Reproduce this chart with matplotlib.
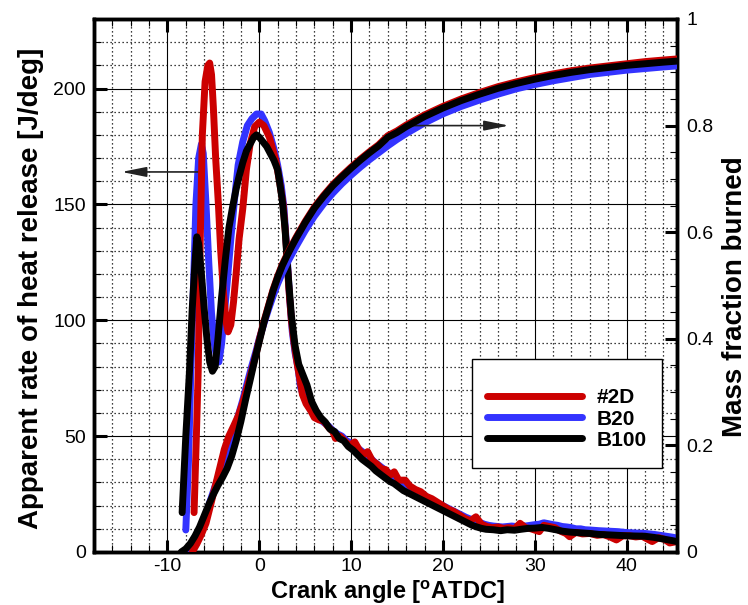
import matplotlib
matplotlib.use('Agg')
import matplotlib.pyplot as plt
from matplotlib.ticker import MultipleLocator, FuncFormatter
from matplotlib.patches import Rectangle

plt.rcParams['font.family'] = ['Liberation Sans', 'DejaVu Sans']
plt.rcParams['mathtext.fontset'] = 'custom'
plt.rcParams['mathtext.rm'] = 'Liberation Sans'
plt.rcParams['mathtext.bf'] = 'Liberation Sans:bold'
plt.rcParams['axes.unicode_minus'] = False

# ---------------- data ----------------
labels = ['#2D', 'B20', 'B100']

# Apparent rate of heat release [J/deg]
hrr_2d_x = [-7.1, -6.85, -6.65, -6.45, -6.2, -5.9, -5.6, -5.4, -5.2, -5.0, -4.75, -4.45, -4.2, -3.9, -3.6, -3.4,
            -3.1, -2.8, -2.5, -2.2, -1.8, -1.4, -1.0, -0.5, 0.0, 0.5, 1.1, 1.8, 2.2, 2.6, 2.9, 3.2, 3.5, 3.8, 4.1,
            4.4, 4.7, 5.1, 5.6, 6.0, 6.5, 7.0, 7.5, 8.0, 8.3, 8.8, 9.3, 9.8, 10.4, 10.9, 11.4, 11.8, 12.3, 12.8,
            13.3, 13.8, 14.2, 14.7, 15.2, 15.9, 16.4, 17.0, 17.6, 18.2, 18.8, 19.4, 20.0, 20.6, 21.2, 21.8, 22.4,
            23.0, 23.6, 24.2, 24.8, 25.4, 26.0, 26.6, 27.2, 27.8, 28.4, 29.0, 29.6, 30.5, 31.0, 31.6, 32.2, 32.8,
            33.4, 33.8, 34.5, 35.2, 36.0, 36.8, 37.5, 38.2, 38.9, 39.6, 40.3, 41.0, 41.7, 42.3, 42.8, 43.5, 44.1,
            44.7, 45.5]
hrr_2d_y = [17, 50, 78, 130, 180, 203, 210, 211, 206, 192, 170, 150, 130, 112, 99, 95,
            98, 108, 121, 135, 148, 165, 176, 183.5, 185.5, 184, 179, 169, 160, 150, 135, 115, 100, 90, 82,
            75, 68, 64, 61, 58, 57, 56.5, 54, 52, 49, 50, 48, 46, 47.5, 44, 42, 43.3, 39.5, 38,
            36, 35.5, 33, 34.6, 31, 31, 28.5, 27, 26, 24, 23, 21.5, 20, 18.5, 17.5, 16, 14.5,
            13.5, 15.2, 12, 11, 10.5, 10.8, 10.2, 10.5, 10, 12.4, 10.5, 10, 8.8, 11.5, 11, 10.5, 9,
            8, 6.6, 8.5, 7.8, 8.0, 7.2, 7.5, 6.5, 5.2, 7, 7, 6.5, 6.8, 5.5, 4.5, 6.2, 5.5,
            3.9, 4.5]

hrr_b20_x = [-8.0, -7.7, -7.45, -7.2, -6.9, -6.6, -6.3, -6.1, -5.8, -5.5, -5.2, -4.9, -4.6, -4.4, -4.1, -3.8,
             -3.5, -3.1, -2.7, -2.3, -1.8, -1.3, -0.8, -0.3, 0.2, 0.6, 1.1, 1.6, 2.0, 2.4, 2.7, 3.0, 3.3, 3.6,
             3.9, 4.2, 4.5, 5.0, 5.5, 6.0, 6.5, 7.0, 7.5, 8.0, 8.5, 9.0, 9.5, 10.0, 10.5, 11.0, 11.5, 12.0,
             12.5, 13.0, 13.5, 14.0, 14.5, 15.0, 15.5, 16.0, 16.5, 17.0, 17.5, 18.0, 18.5, 19.0, 19.5, 20.0,
             20.5, 21.0, 21.5, 22.0, 22.5, 23.0, 23.5, 24.0, 24.5, 25.0, 25.5, 26.0, 26.5, 27.0, 27.5, 28.0,
             28.5, 29.0, 29.5, 30.0, 30.5, 31.0, 31.5, 32.0, 32.5, 33.0, 33.5, 34.0, 34.5, 35.0, 35.5, 36.0,
             37.0, 38.0, 39.0, 40.0, 41.0, 42.0, 43.0, 44.0, 45.0, 45.5]
hrr_b20_y = [9.5, 40, 78, 110, 150, 170, 176, 172, 150, 125, 103, 90, 83, 82, 90, 103,
             116, 135, 152, 167, 177, 184, 187, 189, 189, 186, 181, 174, 167, 158, 148, 130, 110, 95,
             86, 80, 71, 66, 62, 59.5, 57.5, 56, 54.5, 52.5, 51, 50, 48, 47, 45.5, 44, 42.5, 41,
             39, 37.5, 36, 34.5, 33, 31.5, 30, 28.5, 27.5, 26.5, 25.5, 24.5, 23, 22, 21, 20,
             19, 18, 17, 16, 15, 14.2, 13.5, 12.8, 12, 11.5, 11.2, 11, 10.8, 11, 11.2, 11,
             11.5, 11.2, 11.5, 11.8, 12, 12.6, 12.2, 11.8, 11.5, 11, 10.8, 10.5, 10, 10, 9.6, 9.5,
             9.2, 9, 8.8, 8.4, 8.2, 8, 7.6, 7, 6.4, 6]

hrr_b100_x = [-8.4, -8.0, -7.6, -7.3, -7.0, -6.8, -6.6, -6.3, -6.0, -5.7, -5.4, -5.1, -4.8, -4.5, -4.1, -3.7,
              -3.3, -2.9, -2.5, -2.2, -1.8, -1.4, -1.0, -0.6, -0.3, 0.0, 0.4, 0.8, 1.2, 1.6, 2.0, 2.2, 2.5, 2.8,
              3.1, 3.5, 3.9, 4.3, 4.7, 5.2, 5.7, 6.2, 6.7, 7.2, 7.7, 8.2, 8.7, 9.2, 9.7, 10.2, 10.7, 11.2,
              11.7, 12.2, 12.7, 13.2, 13.7, 14.2, 14.7, 15.2, 15.7, 16.2, 16.7, 17.2, 17.7, 18.2, 18.7, 19.2,
              19.7, 20.2, 20.7, 21.2, 21.7, 22.2, 22.7, 23.2, 23.7, 24.2, 24.7, 25.5, 26.3, 27.0, 27.8, 28.5,
              29.3, 30.0, 30.8, 31.5, 32.3, 33.0, 33.8, 34.5, 35.3, 36.0, 37.0, 38.0, 39.0, 40.0, 41.0, 42.0,
              43.0, 44.0, 45.0, 45.5]
hrr_b100_y = [17, 50, 78, 105, 125, 136, 133, 120, 105, 92, 82, 78, 80, 92, 110, 126,
              140, 149, 157, 162, 168, 173, 176, 179, 180, 179, 177, 175, 172, 169, 165, 160, 152, 140,
              122, 102, 89, 81, 77, 72, 65, 61, 58, 56, 53, 52, 49, 48, 45.5, 44, 42, 40,
              38.5, 37, 35, 33.5, 32, 30.5, 29.5, 28, 26.5, 25.5, 24.5, 23.5, 22.5, 21.5, 20.5, 19.5,
              18.5, 17.5, 16.5, 15.5, 14.5, 13.5, 12.5, 11.5, 10.8, 10.2, 9.8, 9.6, 9.2, 9.6, 9.4, 9.8,
              10.2, 10.3, 10.6, 10.2, 9.6, 9.0, 8.6, 8.4, 8.2, 8.0, 7.6, 7.4, 7.2, 7.0, 6.9, 6.8,
              6.3, 5.6, 4.9, 4.5]

# Mass fraction burned
mfb_2d_x = [-7.3, -6.8, -6.3, -5.8, -5.3, -4.8, -4.3, -3.8, -3.3, -2.8, -2.3, -1.8, -1.3, -0.8, -0.3, 0.0,
            0.5, 1.0, 1.5, 2.0, 2.5, 3.0, 3.5, 4.0, 5.0, 6.0, 7.0, 8.0, 9.0, 10, 11, 12, 13, 14, 15, 16, 18,
            20, 22, 24, 26, 28, 30, 32, 34, 36, 38, 40, 42, 44, 45.5]
mfb_2d_y = [0, 0.015, 0.033, 0.054, 0.088, 0.123, 0.158, 0.193, 0.218, 0.236, 0.255, 0.28, 0.31, 0.342, 0.375, 0.398,
            0.432, 0.462, 0.492, 0.517, 0.539, 0.557, 0.574, 0.59, 0.62, 0.647, 0.669, 0.689, 0.706, 0.722, 0.737,
            0.751, 0.764, 0.781, 0.79, 0.801, 0.82, 0.836, 0.85, 0.862, 0.873, 0.882, 0.89, 0.897, 0.903, 0.908,
            0.912, 0.916, 0.92, 0.923, 0.925]

mfb_b20_x = [-7.8, -7.3, -6.8, -6.3, -5.8, -5.3, -4.8, -4.3, -3.8, -3.3, -2.8, -2.3, -1.8, -1.3, -0.8, -0.3,
             0.0, 0.5, 1.0, 1.5, 2.0, 2.5, 3.0, 3.5, 4.0, 5.0, 6.0, 7.0, 8.0, 9.0, 10, 11, 12, 13, 14, 15, 16,
             18, 20, 22, 24, 26, 28, 30, 32, 34, 36, 38, 40, 42, 44, 45.5]
mfb_b20_y = [0, 0.012, 0.03, 0.05, 0.072, 0.098, 0.124, 0.148, 0.172, 0.198, 0.225, 0.255, 0.285, 0.318, 0.35, 0.38,
             0.4, 0.428, 0.455, 0.48, 0.503, 0.523, 0.541, 0.557, 0.573, 0.603, 0.63, 0.653, 0.673, 0.691, 0.707,
             0.722, 0.736, 0.749, 0.762, 0.774, 0.785, 0.805, 0.822, 0.836, 0.848, 0.859, 0.869, 0.877, 0.884,
             0.89, 0.896, 0.9, 0.904, 0.907, 0.91, 0.912]

mfb_b100_x = [-8.5, -8.0, -7.5, -7.0, -6.5, -6.0, -5.5, -5.0, -4.5, -4.0, -3.5, -3.0, -2.5, -2.0, -1.5, -1.0,
              -0.5, 0.0, 0.5, 1.0, 1.5, 2.0, 2.5, 3.0, 3.5, 4.0, 5.0, 6.0, 7.0, 8.0, 9.0, 10, 11, 12, 13, 14,
              15, 16, 18, 20, 22, 24, 26, 28, 30, 32, 34, 36, 38, 40, 42, 44, 45.5]
mfb_b100_y = [0, 0.006, 0.016, 0.03, 0.047, 0.068, 0.089, 0.108, 0.125, 0.14, 0.157, 0.18, 0.21, 0.245, 0.285, 0.322,
              0.36, 0.395, 0.43, 0.46, 0.49, 0.515, 0.537, 0.555, 0.572, 0.588, 0.618, 0.645, 0.667, 0.687, 0.704,
              0.72, 0.735, 0.749, 0.762, 0.778, 0.787, 0.798, 0.817, 0.833, 0.847, 0.859, 0.87, 0.879, 0.887,
              0.894, 0.9, 0.905, 0.909, 0.913, 0.916, 0.919, 0.921]

colors = {'#2D': '#CC0000', 'B20': '#3333FF', 'B100': '#000000'}

xlabel = r'Crank angle [$^{\mathbf{o}}$ATDC]'
ylabel_left = 'Apparent rate of heat release [J/deg]'
ylabel_right = 'Mass fraction burned'

# ---------------- figure ----------------
fig = plt.figure(figsize=(7.48, 6.05), dpi=100)
ax = fig.add_axes([94 / 748, 53 / 605, 583 / 748, 533 / 605])
ax2 = ax.twinx()

lw = 5
hb, = ax.plot(hrr_b20_x, hrr_b20_y, color=colors['B20'], lw=lw, solid_capstyle='round', solid_joinstyle='round', zorder=3)
hr, = ax.plot(hrr_2d_x, hrr_2d_y, color=colors['#2D'], lw=lw, solid_capstyle='round', solid_joinstyle='round', zorder=4)
hk, = ax.plot(hrr_b100_x, hrr_b100_y, color=colors['B100'], lw=lw, solid_capstyle='round', solid_joinstyle='round', zorder=5)

ax2.plot(mfb_b20_x, mfb_b20_y, color=colors['B20'], lw=lw, solid_capstyle='round', zorder=3)
ax2.plot(mfb_2d_x, mfb_2d_y, color=colors['#2D'], lw=lw, solid_capstyle='round', zorder=4)
ax2.plot(mfb_b100_x, mfb_b100_y, color=colors['B100'], lw=lw, solid_capstyle='round', zorder=5)

ax.set_xlim(-18, 45.5)
ax.set_ylim(0, 230)
ax2.set_ylim(0, 1)

ax.xaxis.set_major_locator(MultipleLocator(10))
ax.xaxis.set_minor_locator(MultipleLocator(2))
ax.yaxis.set_major_locator(MultipleLocator(50))
ax.yaxis.set_minor_locator(MultipleLocator(10))
ax2.yaxis.set_major_locator(MultipleLocator(0.2))
ax2.yaxis.set_minor_locator(MultipleLocator(0.05))
ax2.yaxis.set_major_formatter(FuncFormatter(lambda v, p: '%g' % round(v, 2)))

ax.set_axisbelow(True)
ax.grid(which='major', color='black', lw=0.8, ls='-')
ax.grid(which='minor', color='black', lw=0.9, ls=(0, (1, 2.2)))

ax.tick_params(which='both', direction='in', top=True, right=False, labelsize=14)
ax.tick_params(which='major', length=9, width=2.2, pad=6)
ax.tick_params(axis='x', which='major', pad=4.5)
ax.tick_params(which='minor', length=5, width=0.8)
ax2.tick_params(which='both', direction='in', labelsize=14)
ax2.tick_params(which='major', length=9, width=2.2, pad=7)
ax2.tick_params(which='minor', length=5, width=0.8)

for a in (ax, ax2):
    for s in a.spines.values():
        s.set_linewidth(2.5)

ax.set_xlabel(xlabel, fontsize=17, fontweight='bold')
ax.xaxis.set_label_coords(0.504, -0.049)
ax.set_ylabel(ylabel_left, fontsize=20, fontweight='bold')
ax.yaxis.set_label_coords(-0.086, 0.495)
ax2.set_ylabel(ylabel_right, fontsize=20, fontweight='bold')
ax2.yaxis.set_label_coords(1.077, 0.48)

# arrows
ax.annotate('', xy=(-15.0, 164), xytext=(-6.2, 164),
            arrowprops=dict(arrowstyle='-|>,head_length=0.75,head_width=0.15', mutation_scale=20,
                            lw=1.2, color='#222222', shrinkA=0, shrinkB=0))
ax2.annotate('', xy=(27.2, 0.8), xytext=(16.7, 0.8),
             arrowprops=dict(arrowstyle='-|>,head_length=0.75,head_width=0.15', mutation_scale=20,
                             lw=1.2, color='#222222', shrinkA=0, shrinkB=0))

# legend
ax2.add_patch(Rectangle((0.648, 0.158), 0.326, 0.204, transform=ax2.transAxes,
                        facecolor='white', edgecolor='black', lw=1.0, zorder=10))
leg = ax2.legend([hr, hb, hk], labels, loc='center', bbox_to_anchor=(0.811, 0.2495),
                 frameon=False, prop={'weight': 'bold', 'size': 15}, handlelength=4.56,
                 handletextpad=0.72, labelspacing=0.1, borderpad=0, borderaxespad=0)
leg.set_zorder(11)

fig.savefig('out.png', dpi=100)
